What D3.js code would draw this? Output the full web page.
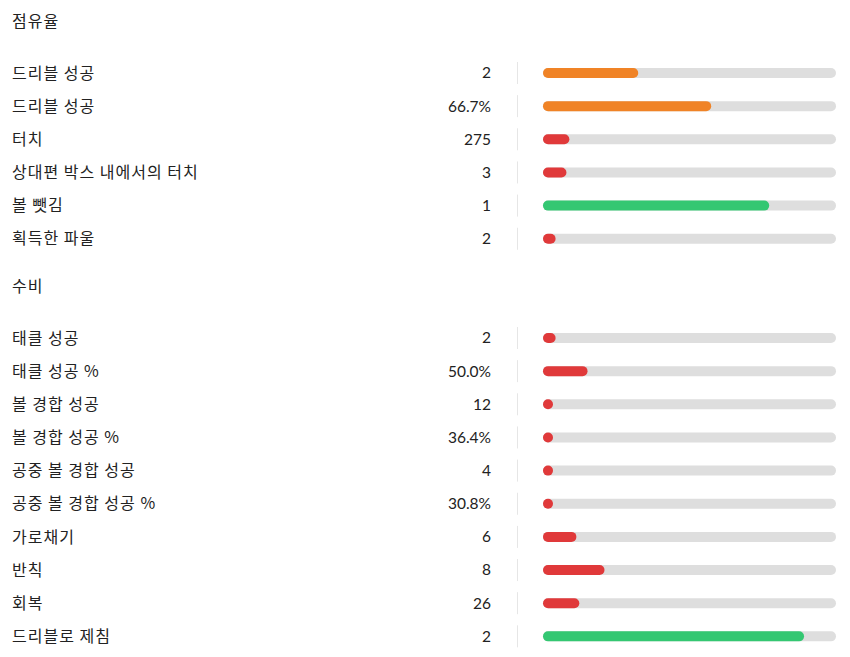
<!DOCTYPE html>
<html>
<head>
<meta charset="utf-8">
<script src="https://cdn.jsdelivr.net/npm/d3@7"></script>
<style>
  body { margin: 0; background: #fff; }
  svg text { font-family: "Noto Sans CJK KR", "Noto Sans", sans-serif; fill: #222; }
  .lbl { font-size: 16px; letter-spacing: 1px; word-spacing: 0px; }
  .val { font-family: "Lato", "Noto Sans", sans-serif; font-size: 15.5px; }
</style>
</head>
<body>
<div id="chart"></div>
<script>
var width = 850, height = 657;

// section titles
var sections = ["점유율", "수비"];

// possession rows
var possLabels = ["드리블 성공", "드리블 성공", "터치", "상대편 박스 내에서의 터치", "볼 뺏김", "획득한 파울"];
var possValues = ["2", "66.7%", "275", "3", "1", "2"];
var possFill = [32.5, 57.4, 9.0, 8.0, 77.2, 4.3];   // percent of track
var possColor = ["orange", "orange", "red", "red", "green", "red"];

// defence rows
var defLabels = ["태클 성공", "태클 성공 %", "볼 경합 성공", "볼 경합 성공 %", "공중 볼 경합 성공", "공중 볼 경합 성공 %", "가로채기", "반칙", "회복", "드리블로 제침"];
var defValues = ["2", "50.0%", "12", "36.4%", "4", "30.8%", "6", "8", "26", "2"];
var defFill = [4.3, 15.2, 3.2, 2.6, 2.6, 2.6, 11.4, 21.0, 12.4, 89.1];
var defColor = ["red", "red", "red", "red", "red", "red", "red", "red", "red", "green"];

var colors = { orange: "#f08326", red: "#e0393a", green: "#34c772" };

var svg = d3.select("#chart").append("svg")
  .attr("width", width)
  .attr("height", height);

var x = d3.scaleLinear().domain([0, 100]).range([543, 836]);
var barH = 10;

function rowsOf(labels, values, fill, color) {
  return labels.map(function(l, i) {
    return { label: l, value: values[i], fill: fill[i], color: color[i] };
  });
}

var blocks = [
  { title: sections[0], top: 21, rows: rowsOf(possLabels, possValues, possFill, possColor) },
  { title: sections[1], top: 286, rows: rowsOf(defLabels, defValues, defFill, defColor) }
];

blocks.forEach(function(b) {
  var y = d3.scaleLinear().domain([0, 1]).range([b.top + 52, b.top + 52 + 33.15]);

  svg.append("text")
    .attr("class", "lbl")
    .attr("x", 12)
    .attr("y", b.top)
    .attr("dy", "0.35em")
    .text(b.title);

  var g = svg.append("g").selectAll("g")
    .data(b.rows)
    .enter()
    .append("g")
    .attr("transform", (d, i) => "translate(0," + y(i) + ")");

  g.append("text")
    .attr("class", "lbl")
    .attr("x", 12)
    .attr("dy", "0.35em")
    .text(d => d.label);

  g.append("text")
    .attr("class", "val")
    .attr("x", 491)
    .attr("dy", "0.35em")
    .attr("text-anchor", "end")
    .text(d => d.value);

  g.append("line")
    .attr("x1", 517.5).attr("x2", 517.5)
    .attr("y1", -11).attr("y2", 11)
    .attr("stroke", "#e6e6e6");

  g.append("rect")
    .attr("x", x(0))
    .attr("y", -barH / 2)
    .attr("width", x(100) - x(0))
    .attr("height", barH)
    .attr("rx", barH / 2)
    .attr("fill", "#dedede");

  g.append("rect")
    .attr("x", x(0))
    .attr("y", -barH / 2)
    .attr("width", d => Math.max(barH, x(d.fill) - x(0)))
    .attr("height", barH)
    .attr("rx", barH / 2)
    .attr("fill", d => colors[d.color]);
});
</script>
</body>
</html>
